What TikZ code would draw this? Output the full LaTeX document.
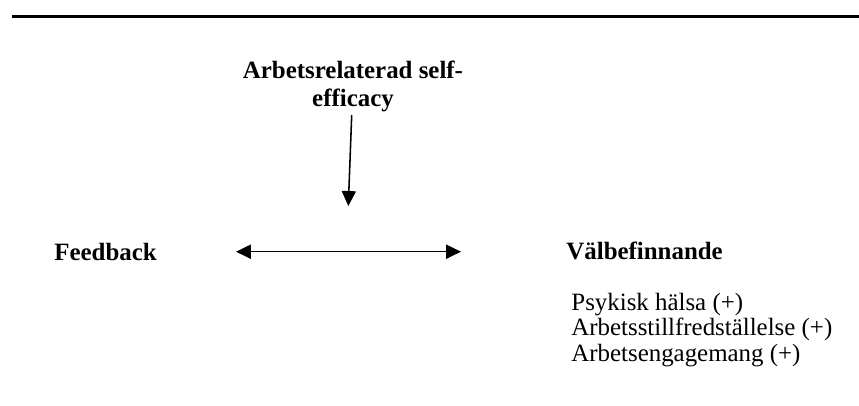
\documentclass[tikz,border=0pt]{standalone}
\usepackage{fontspec}
\setmainfont{Liberation Serif}
\usepackage{tikz}
\usetikzlibrary{arrows.meta, positioning}

\tikzset{
  rubrik/.style={font=\fontsize{12}{13.2}\selectfont\bfseries, inner sep=0pt},
  punkt/.style={font=\fontsize{12}{12.8}\selectfont, inner sep=0pt, anchor=base west},
  pil/.style={line width=0.75pt, -{Triangle[length=7.2pt, width=6.8pt]}}
}

\begin{document}
\begin{tikzpicture}[x=0.482pt, y=-0.482pt]
    \useasboundingbox (0,0) rectangle (859,406);

    % Linje
    \draw[line width=1.6pt] (12,16.3) -- (859,16.3);

    % Rubriker
    \node[rubrik, align=center, anchor=base] (self) at (353,106) {Arbetsrelaterad self-\\efficacy};
    \node[rubrik, anchor=base west] (feedback) at (54,260) {Feedback};
    \node[rubrik, anchor=base west] (val) at (566,259) {Välbefinnande};

    \node[punkt] (psyk) at (571,310) {Psykisk hälsa (+)};
    \node[punkt, below=0pt of psyk.base west, anchor=base west, yshift=-12.5pt] (nojd) {Arbetsstillfredställelse (+)};
    \node[punkt, below=0pt of nojd.base west, anchor=base west, yshift=-12.5pt] (eng) {Arbetsengagemang (+)};

    % Pilar
    \coordinate (a) at (236,251.7);
    \coordinate (b) at (461,251.7);
    \coordinate (c) at (351.7,115);
    \coordinate (d) at (348.3,206);
    \draw[pil, {Triangle[length=7.2pt, width=6.8pt]}-{Triangle[length=7.2pt, width=6.8pt]}] (a) -- (b);
    \draw[pil] (c) -- (d);
\end{tikzpicture}
\end{document}
